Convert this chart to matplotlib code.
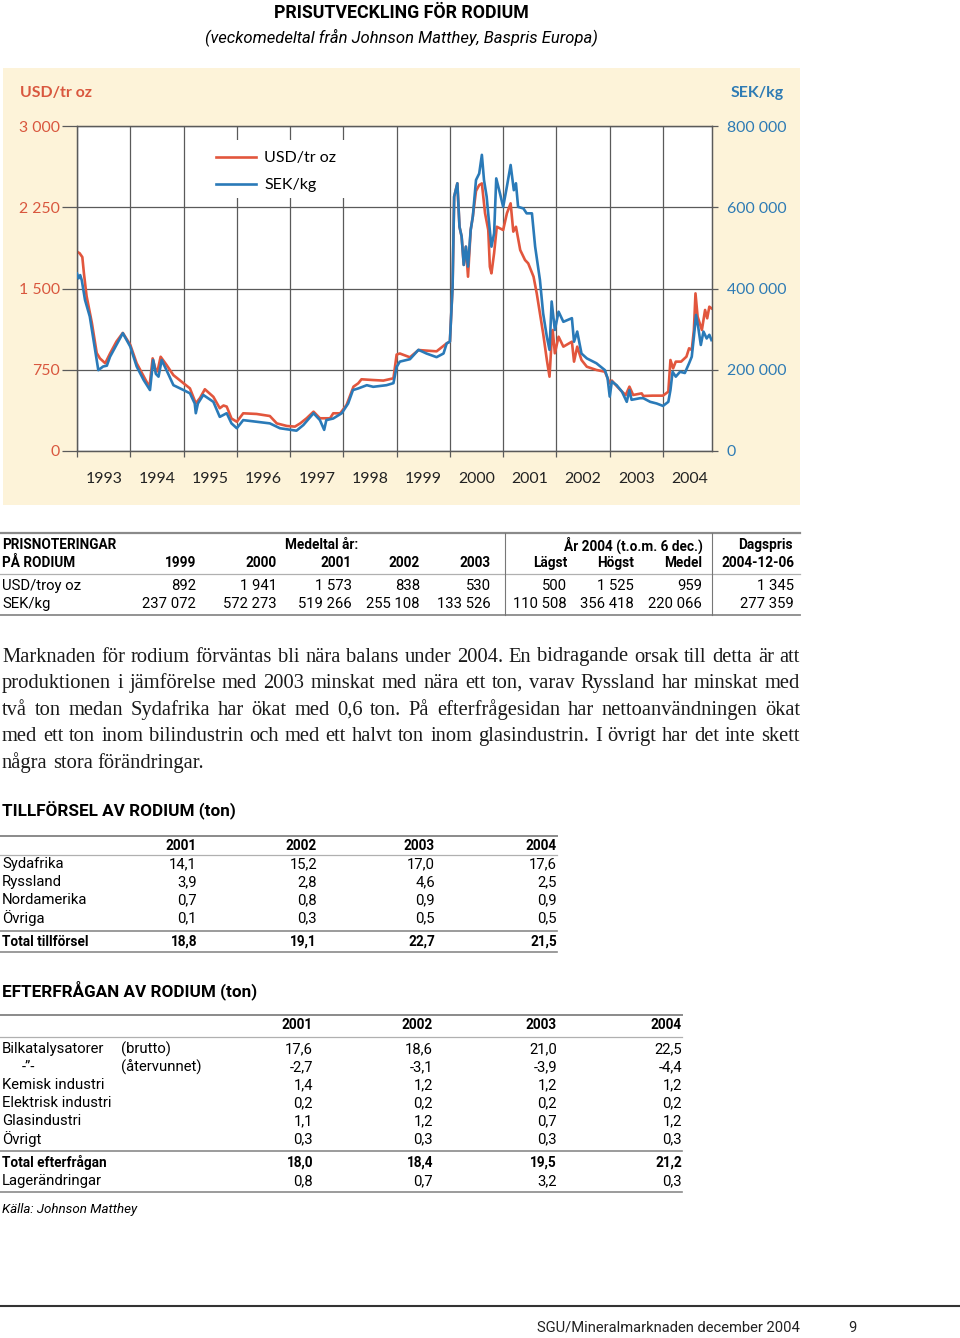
import matplotlib
matplotlib.use('Agg')
import matplotlib.pyplot as plt
from matplotlib.patches import Rectangle
from matplotlib.lines import Line2D

# ---------------- data ----------------
usd_year = [1993.00, 1993.05, 1993.10, 1993.13, 1993.18, 1993.28, 1993.37, 1993.43, 1993.53, 1993.62,
            1993.74, 1993.86, 1994.00, 1994.12, 1994.25, 1994.36, 1994.42, 1994.47, 1994.51, 1994.57,
            1994.68, 1994.81, 1995.00, 1995.12, 1995.23, 1995.31, 1995.40, 1995.56, 1995.68, 1995.75,
            1995.81, 1995.90, 1996.00, 1996.12, 1996.37, 1996.62, 1996.75, 1996.94, 1997.09, 1997.19,
            1997.31, 1997.44, 1997.56, 1997.75, 1997.81, 1997.94, 1998.06, 1998.19, 1998.28, 1998.34,
            1998.56, 1998.75, 1998.94, 1999.00, 1999.06, 1999.25, 1999.41, 1999.75, 1999.94, 2000.00,
            2000.05, 2000.08, 2000.14, 2000.18, 2000.22, 2000.26, 2000.30, 2000.34, 2000.39, 2000.43,
            2000.49, 2000.55, 2000.60, 2000.66, 2000.72, 2000.75, 2000.78, 2000.83, 2000.88, 2000.94,
            2001.00, 2001.07, 2001.14, 2001.19, 2001.24, 2001.32, 2001.41, 2001.47, 2001.57, 2001.63,
            2001.69, 2001.75, 2001.82, 2001.87, 2001.91, 2001.93, 2001.97, 2002.04, 2002.13, 2002.29,
            2002.33, 2002.39, 2002.47, 2002.57, 2002.75, 2002.91, 2003.00, 2003.04, 2003.13, 2003.23,
            2003.30, 2003.37, 2003.44, 2003.60, 2003.63, 2003.80, 2004.00, 2004.10, 2004.14, 2004.19,
            2004.24, 2004.34, 2004.44, 2004.49, 2004.54, 2004.58, 2004.61, 2004.65, 2004.73, 2004.79,
            2004.83, 2004.87, 2004.91]
usd_price = [1840, 1825, 1790, 1640, 1430, 1180, 905, 855, 810, 900,
             1010, 1090, 980, 810, 690, 590, 855, 760, 735, 870,
             795, 700, 625, 578, 440, 490, 570, 500, 395, 420,
             410, 300, 270, 348, 342, 323, 255, 231, 225, 255,
             302, 363, 302, 302, 348, 348, 425, 594, 625, 662,
             655, 650, 671, 890, 900, 865, 932, 920, 994, 1010,
             1515, 2348, 2470, 2070, 1980, 1718, 1886, 1609, 2040, 2164,
             2400, 2455, 2470, 2194, 2040, 1701, 1640, 1827, 2070, 2055,
             2040, 2194, 2286, 2025, 2070, 1855, 1763, 1732, 1609, 1455,
             1271, 1086, 840, 686, 1024, 1117, 902, 1055, 963, 1009,
             825, 963, 840, 778, 748, 732, 625, 650, 600, 548,
             517, 594, 517, 532, 508, 511, 511, 548, 840, 763,
             825, 825, 871, 948, 932, 1117, 1455, 1240, 1117, 1302,
             1225, 1332, 1317]

sek_year = [1993.00, 1993.03, 1993.06, 1993.09, 1993.15, 1993.24, 1993.36, 1993.40, 1993.49, 1993.56,
            1993.62, 1993.74, 1993.86, 1994.00, 1994.12, 1994.25, 1994.37, 1994.43, 1994.48, 1994.53,
            1994.59, 1994.68, 1994.81, 1995.00, 1995.12, 1995.21, 1995.23, 1995.27, 1995.37, 1995.56,
            1995.68, 1995.81, 1995.90, 1996.00, 1996.12, 1996.37, 1996.62, 1996.81, 1997.12, 1997.25,
            1997.44, 1997.56, 1997.64, 1997.68, 1997.81, 1997.97, 1998.09, 1998.18, 1998.28, 1998.44,
            1998.56, 1998.81, 1998.94, 1999.00, 1999.06, 1999.25, 1999.41, 1999.56, 1999.75, 1999.88,
            1999.94, 2000.00, 2000.05, 2000.08, 2000.14, 2000.18, 2000.22, 2000.26, 2000.30, 2000.34,
            2000.39, 2000.43, 2000.49, 2000.55, 2000.60, 2000.64, 2000.69, 2000.73, 2000.78, 2000.83,
            2000.87, 2000.94, 2001.00, 2001.07, 2001.14, 2001.20, 2001.24, 2001.28, 2001.38, 2001.44,
            2001.54, 2001.60, 2001.69, 2001.75, 2001.82, 2001.87, 2001.91, 2001.97, 2002.04, 2002.13,
            2002.29, 2002.33, 2002.39, 2002.47, 2002.57, 2002.75, 2002.91, 2002.96, 2003.00, 2003.04,
            2003.13, 2003.23, 2003.32, 2003.37, 2003.41, 2003.57, 2003.63, 2003.76, 2003.88, 2004.00,
            2004.10, 2004.14, 2004.18, 2004.24, 2004.32, 2004.41, 2004.49, 2004.54, 2004.58, 2004.62,
            2004.66, 2004.71, 2004.76, 2004.82, 2004.87, 2004.91]
sek_price = [437000, 425000, 433000, 420000, 372000, 331000, 232000, 199000, 208000, 210000,
             232000, 261000, 290000, 257000, 208000, 175000, 150000, 224000, 190000, 183000,
             224000, 199000, 162000, 150000, 142000, 117000, 93000, 117000, 138000, 121000,
             84000, 93000, 68000, 56000, 76000, 72000, 68000, 56000, 50000, 64000,
             93000, 76000, 52000, 76000, 80000, 93000, 117000, 150000, 154000, 162000,
             158000, 162000, 167000, 207000, 220000, 226000, 249000, 240000, 231000, 240000,
             265000, 269000, 404000, 626000, 659000, 552000, 528000, 458000, 503000, 454000,
             544000, 577000, 667000, 683000, 729000, 667000, 626000, 569000, 503000, 536000,
             671000, 634000, 601000, 651000, 704000, 642000, 659000, 601000, 597000, 585000,
             585000, 503000, 421000, 339000, 281000, 249000, 368000, 298000, 343000, 318000,
             327000, 269000, 294000, 240000, 228000, 216000, 199000, 179000, 134000, 171000,
             162000, 146000, 121000, 150000, 126000, 130000, 130000, 121000, 117000, 111000,
             121000, 150000, 195000, 183000, 195000, 192000, 216000, 232000, 281000, 335000,
             306000, 261000, 294000, 277000, 286000, 273000]

years = list(range(1993, 2005))
usd_ticks = [0, 750, 1500, 2250, 3000]
usd_ticklabels = ['0', '750', '1 500', '2 250', '3 000']
sek_ticks = [0, 200000, 400000, 600000, 800000]
sek_ticklabels = ['0', '200 000', '400 000', '600 000', '800 000']

price_cols = ['1999', '2000', '2001', '2002', '2003', 'Lägst', 'Högst', 'Medel', '2004-12-06']
price_usd = ['892', '1 941', '1 573', '838', '530', '500', '1 525', '959', '1 345']
price_sek = ['237 072', '572 273', '519 266', '255 108', '133 526', '110 508', '356 418', '220 066', '277 359']

para_lines = [
    'Marknaden för rodium förväntas bli nära balans under 2004. En bidragande orsak till detta är att',
    'produktionen i jämförelse med 2003 minskat med nära ett ton, varav Ryssland har minskat med',
    'två ton medan Sydafrika har ökat med 0,6 ton. På efterfrågesidan har nettoanvändningen ökat',
    'med ett ton inom bilindustrin och med ett halvt ton inom glasindustrin. I övrigt har det inte skett',
    'några stora förändringar.',
]

table_years = ['2001', '2002', '2003', '2004']
supply_rows = ['Sydafrika', 'Ryssland', 'Nordamerika', 'Övriga']
supply_vals = [['14,1', '15,2', '17,0', '17,6'],
               ['3,9', '2,8', '4,6', '2,5'],
               ['0,7', '0,8', '0,9', '0,9'],
               ['0,1', '0,3', '0,5', '0,5']]
supply_total = ['18,8', '19,1', '22,7', '21,5']

demand_rows = ['Bilkatalysatorer', '-”-', 'Kemisk industri', 'Elektrisk industri', 'Glasindustri', 'Övrigt']
demand_notes = ['(brutto)', '(återvunnet)', '', '', '', '']
demand_vals = [['17,6', '18,6', '21,0', '22,5'],
               ['-2,7', '-3,1', '-3,9', '-4,4'],
               ['1,4', '1,2', '1,2', '1,2'],
               ['0,2', '0,2', '0,2', '0,2'],
               ['1,1', '1,2', '0,7', '1,2'],
               ['0,3', '0,3', '0,3', '0,3']]
demand_total = ['18,0', '18,4', '19,5', '21,2']
stock_change = ['0,8', '0,7', '3,2', '0,3']

# ---------------- style ----------------
RED = '#E2563D'
BLUE = '#2A7AB8'
RED_TXT = '#D9573E'
BLUE_TXT = '#2E7BB4'
BEIGE = '#FDF3D9'
GRID = '#5a5a5a'
SANS = ['Liberation Sans Narrow', 'Roboto', 'DejaVu Sans']
CHART = ['Lato', 'DejaVu Sans']
SERIF = ['Liberation Serif', 'DejaVu Serif']

W, H = 960, 1338
fig = plt.figure(figsize=(W / 100, H / 100), dpi=100)
fig.patch.set_facecolor('white')
renderer = fig.canvas.get_renderer()


def fx(x):
    return x / W


def fy(y):
    return 1 - y / H


def txt(x, y, s, **kw):
    kw.setdefault('va', 'center')
    return fig.text(fx(x), fy(y), s, **kw)


def fit(s, target, **kw):
    # font size that makes s about target pixels wide
    t = fig.text(0, 0, s, fontsize=10, **kw)
    w = t.get_window_extent(renderer).width
    t.remove()
    return 10 * target / w


def rule(y, x0, x1, color='#8c8c8c', lw=1.0):
    fig.add_artist(Line2D([fx(x0), fx(x1)], [fy(y), fy(y)], color=color, lw=lw,
                          transform=fig.transFigure))


def vrule(x, y0, y1, color='#8c8c8c', lw=0.8):
    fig.add_artist(Line2D([fx(x), fx(x)], [fy(y0), fy(y1)], color=color, lw=lw,
                          transform=fig.transFigure))


# sizes fitted to the widths in the page
fs_title = fit('PRISUTVECKLING FÖR RODIUM', 254, fontfamily=SANS, fontweight='bold')
fs_sub = fit('(veckomedeltal från Johnson Matthey, Baspris Europa)', 393, fontfamily=SANS, style='italic')
fs_tab = fit('USD/troy oz', 79, fontfamily=SANS)
fs_tabb = fit('PRISNOTERINGAR', 114, fontfamily=SANS, fontweight='bold')
fs_head = fit('TILLFÖRSEL AV RODIUM (ton)', 234, fontfamily=SANS, fontweight='bold')
fs_src = fit('Källa: Johnson Matthey', 135, fontfamily=SANS, style='italic')
fs_foot = fit('SGU/Mineralmarknaden december 2004', 263, fontfamily=SANS)
fs_tick = fit('400 000', 59, fontfamily=CHART)
fs_unit = fit('USD/tr oz', 72, fontfamily=CHART, fontweight='bold')
fs_leg = fit('USD/tr oz', 72, fontfamily=CHART)

# ---------------- title ----------------
txt(401, 13, 'PRISUTVECKLING FÖR RODIUM', ha='center', fontfamily=SANS, fontweight='bold', fontsize=fs_title)
txt(401, 37, '(veckomedeltal från Johnson Matthey, Baspris Europa)', ha='center',
    fontfamily=SANS, style='italic', fontsize=fs_sub)

# ---------------- chart ----------------
fig.add_artist(Rectangle((fx(3), fy(505)), (800 - 3) / W, (505 - 68) / H, facecolor=BEIGE,
                         edgecolor='none', transform=fig.transFigure, zorder=-5))

ax = fig.add_axes([fx(77), fy(451), (712 - 77) / W, (451 - 126) / H])
ax.set_facecolor('white')
ax.set_xlim(1993, 2004.92)
ax.set_ylim(0, 3000)
ax.set_axisbelow(True)
ax.plot(usd_year, usd_price, color=RED, lw=1.9, zorder=3, solid_joinstyle='round')

ax.set_xticks(years)
ax.set_xticklabels([])
ax.set_xticks([y + 0.5 for y in years], minor=True)
ax.set_xticklabels([str(y) for y in years], minor=True, fontfamily=CHART, fontsize=fs_tick)
ax.tick_params(axis='x', which='major', length=4.5, width=0.9, color=GRID)
ax.tick_params(axis='x', which='minor', length=0, pad=15, labelcolor='#222222')
ax.set_yticks(usd_ticks)
ax.set_yticklabels(usd_ticklabels, fontfamily=CHART, fontsize=fs_tick)
ax.tick_params(axis='y', length=10.5, width=0.9, color=GRID, pad=2, labelcolor=RED_TXT)
ax.grid(True, which='major', color=GRID, lw=0.9)
for sp in ax.spines.values():
    sp.set_color(GRID)
    sp.set_linewidth(0.9)

# white patch behind the legend
ax.add_patch(Rectangle((fx(186), fy(198)), (350 - 186) / W, (198 - 140) / H, facecolor='white',
                       edgecolor='none', transform=fig.transFigure, zorder=1))

ax2 = ax.twinx()
ax2.set_ylim(0, 800000)
ax2.plot(sek_year, sek_price, color=BLUE, lw=1.9, zorder=3, solid_joinstyle='round')
ax2.set_yticks(sek_ticks)
ax2.set_yticklabels(sek_ticklabels, fontfamily=CHART, fontsize=fs_tick)
ax2.tick_params(axis='y', length=4.5, width=0.9, color=GRID, pad=6, labelcolor=BLUE_TXT)
for sp in ax2.spines.values():
    sp.set_color(GRID)
    sp.set_linewidth(0.9)

handles = [Line2D([], [], color=RED, lw=1.9), Line2D([], [], color=BLUE, lw=1.9)]
leg = ax2.legend(handles, ['USD/tr oz', 'SEK/kg'], loc='upper left',
                 bbox_to_anchor=(fx(208), fy(143)), bbox_transform=fig.transFigure,
                 frameon=False, borderpad=0, handlelength=2.5, handletextpad=0.5,
                 labelspacing=0.8, prop={'family': CHART, 'size': fs_leg})

txt(20, 93, 'USD/tr oz', ha='left', color=RED_TXT, fontfamily=CHART, fontweight='bold', fontsize=fs_unit)
txt(784, 93, 'SEK/kg', ha='right', color=BLUE_TXT, fontfamily=CHART, fontweight='bold', fontsize=fs_unit)

# ---------------- price table ----------------
price_right = [196, 277, 352, 420, 491, 567, 634, 702, 794]
rule(533, 0, 800, color='#8a8a8a', lw=1.6)
rule(574, 0, 800, color='#b0b0b0', lw=0.9)
rule(615, 0, 800, color='#8a8a8a', lw=1.3)
vrule(505, 533, 615, color='#777777')
vrule(712, 533, 615, color='#777777')
bold_tab = dict(fontfamily=SANS, fontweight='bold', fontsize=fs_tabb)
reg_tab = dict(fontfamily=SANS, fontsize=fs_tab)
txt(2, 545, 'PRISNOTERINGAR', ha='left', **bold_tab)
txt(2, 563, 'PÅ RODIUM', ha='left', **bold_tab)
txt(322, 545, 'Medeltal år:', ha='center', **bold_tab)
txt(703, 545, 'År 2004 (t.o.m. 6 dec.)', ha='right', **bold_tab)
txt(793, 545, 'Dagspris', ha='right', **bold_tab)
for xr, c in zip(price_right, price_cols):
    txt(xr, 563, c, ha='right', **bold_tab)
txt(2, 586, 'USD/troy oz', ha='left', **reg_tab)
txt(2, 604, 'SEK/kg', ha='left', **reg_tab)
for xr, a, b in zip(price_right, price_usd, price_sek):
    txt(xr, 586, a, ha='right', **reg_tab)
    txt(xr, 604, b, ha='right', **reg_tab)

# ---------------- paragraph (justified) ----------------
fs_para = fit(para_lines[3], 790, fontfamily=SERIF)
t1 = fig.text(0, 0, 'a a', fontsize=fs_para, fontfamily=SERIF)
t2 = fig.text(0, 0, 'aa', fontsize=fs_para, fontfamily=SERIF)
space_w = t1.get_window_extent(renderer).width - t2.get_window_extent(renderer).width
t1.remove()
t2.remove()
for i, line in enumerate(para_lines):
    y = 657 + i * 26.5
    words = line.split(' ')
    arts = [txt(0, y, w, ha='left', fontfamily=SERIF, fontsize=fs_para, color='#1a1a1a') for w in words]
    widths = [a.get_window_extent(renderer).width for a in arts]
    if i < len(para_lines) - 1:
        gap = (798 - sum(widths)) / (len(words) - 1)
    else:
        gap = space_w
    x = 2
    for a, w in zip(arts, widths):
        a.set_x(fx(x))
        x += w + gap

# ---------------- supply table ----------------
txt(2, 811, 'TILLFÖRSEL AV RODIUM (ton)', ha='left', fontfamily=SANS, fontweight='bold', fontsize=fs_head)
sup_right = [197, 317, 435, 557]
rule(836, 0, 557, color='#8a8a8a', lw=1.4)
rule(855, 0, 557, color='#b0b0b0', lw=0.9)
rule(931, 0, 557, color='#8a8a8a', lw=1.2)
rule(952, 0, 557, color='#8a8a8a', lw=1.2)
for xr, yr in zip(sup_right, table_years):
    txt(xr, 846, yr, ha='right', **bold_tab)
for i, (name, vals) in enumerate(zip(supply_rows, supply_vals)):
    y = 864 + i * 18
    txt(2, y, name, ha='left', **reg_tab)
    for xr, v in zip(sup_right, vals):
        txt(xr, y, v, ha='right', **reg_tab)
txt(2, 942, 'Total tillförsel', ha='left', **bold_tab)
for xr, v in zip(sup_right, supply_total):
    txt(xr, 942, v, ha='right', **bold_tab)

# ---------------- demand table ----------------
txt(2, 990, 'EFTERFRÅGAN AV RODIUM (ton)', ha='left', fontfamily=SANS, fontweight='bold', fontsize=fs_head)
dem_right = [313, 433, 557, 682]
rule(1015, 0, 682, color='#8a8a8a', lw=1.4)
rule(1037, 0, 682, color='#b0b0b0', lw=0.9)
rule(1151, 0, 682, color='#8a8a8a', lw=1.2)
rule(1192, 0, 682, color='#8a8a8a', lw=1.2)
for xr, yr in zip(dem_right, table_years):
    txt(xr, 1025, yr, ha='right', **bold_tab)
for i, (name, note, vals) in enumerate(zip(demand_rows, demand_notes, demand_vals)):
    y = 1049 + i * 18
    txt(22 if name.startswith('-') else 2, y, name, ha='left', **reg_tab)
    if note:
        txt(121, y, note, ha='left', **reg_tab)
    for xr, v in zip(dem_right, vals):
        txt(xr, y, v, ha='right', **reg_tab)
txt(2, 1163, 'Total efterfrågan', ha='left', **bold_tab)
for xr, v in zip(dem_right, demand_total):
    txt(xr, 1163, v, ha='right', **bold_tab)
txt(2, 1181, 'Lagerändringar', ha='left', **reg_tab)
for xr, v in zip(dem_right, stock_change):
    txt(xr, 1181, v, ha='right', **reg_tab)

txt(2, 1209, 'Källa: Johnson Matthey', ha='left', fontfamily=SANS, style='italic', fontsize=fs_src)

# ---------------- footer ----------------
rule(1306, 0, 960, color='#333333', lw=1.5)
txt(537, 1328, 'SGU/Mineralmarknaden december 2004', ha='left', fontfamily=SANS, fontsize=fs_foot, color='#222222')
txt(852, 1328, '9', ha='center', fontfamily=SANS, fontsize=fs_foot, color='#222222')

fig.savefig('out.png', dpi=100, facecolor='white')
